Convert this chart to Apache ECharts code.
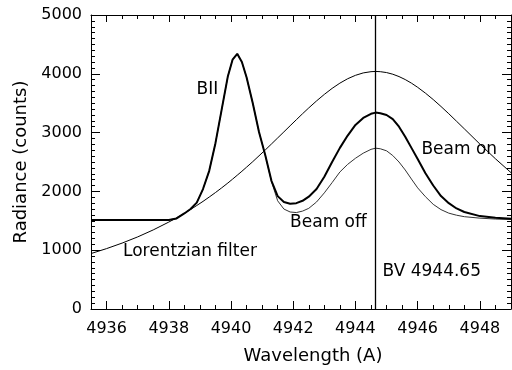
<!DOCTYPE html>
<html>
<head>
<meta charset="utf-8">
<script src="https://cdn.jsdelivr.net/npm/echarts@6/dist/echarts.min.js"></script>
<style>
html,body{margin:0;padding:0;background:#fff;}
#chart{width:512px;height:370px;}
</style>
</head>
<body>
<div id="chart"></div>
<script>
const wavelength = [4935.5,4936.0,4936.5,4937.0,4937.5,4938.0,4938.25,4938.5,4938.7,4938.9,4939.1,4939.3,4939.5,4939.7,4939.9,4940.05,4940.2,4940.35,4940.5,4940.7,4940.9,4941.1,4941.3,4941.5,4941.7,4941.9,4942.1,4942.3,4942.5,4942.75,4943.0,4943.25,4943.5,4943.75,4944.0,4944.25,4944.5,4944.65,4944.8,4945.0,4945.2,4945.4,4945.6,4945.8,4946.0,4946.25,4946.5,4946.75,4947.0,4947.25,4947.5,4948.0,4948.5,4949.0];
const beamOn = [1515,1515,1515,1515,1515,1515,1540,1625,1700,1810,2040,2350,2820,3390,3960,4240,4340,4200,3940,3500,3010,2620,2180,1920,1820,1790,1800,1840,1910,2040,2250,2500,2740,2950,3130,3250,3320,3340,3330,3300,3230,3100,2930,2740,2550,2310,2100,1920,1800,1710,1650,1580,1550,1535];
const beamOff = [1515,1515,1515,1515,1515,1515,1540,1625,1700,1810,2040,2350,2820,3390,3960,4240,4340,4200,3940,3500,3010,2620,2170,1840,1700,1650,1640,1665,1712,1820,1975,2150,2330,2460,2563,2650,2715,2735,2725,2690,2610,2500,2364,2210,2060,1910,1780,1690,1630,1595,1570,1545,1530,1522];
const lorentzFilter = [943,1027,1121,1226,1345,1478,1550,1627,1692,1760,1830,1904,1980,2060,2143,2208,2275,2342,2412,2506,2605,2704,2806,2909,3012,3116,3219,3321,3420,3539,3650,3752,3841,3916,3974,4015,4036,4040,4036,4021,3993,3953,3902,3841,3770,3671,3562,3444,3321,3193,3064,2805,2555,2319];
const xMajorTicks = [4936,4938,4940,4942,4944,4946,4948];
const xMinorTicks = [4935.5,4936,4936.5,4937,4937.5,4938,4938.5,4939,4939.5,4940,4940.5,4941,4941.5,4942,4942.5,4943,4943.5,4944,4944.5,4945,4945.5,4946,4946.5,4947,4947.5,4948,4948.5,4949];
const bvWavelength = 4944.65;
const annotations = [
  {text:'BII', x:4939.24, y:3724, align:'center'},
  {text:'Lorentzian filter', x:4936.53, y:969, align:'left'},
  {text:'Beam off', x:4941.9, y:1463, align:'left'},
  {text:'Beam on', x:4946.12, y:2704, align:'left'},
  {text:'BV 4944.65', x:4944.87, y:629, align:'left'}
];

const FONT = 'DejaVu Sans';
const plain = v => String(v);
const pair = arr => wavelength.map((w,i)=>[w,arr[i]]);
const chart = echarts.init(document.getElementById('chart'), null, {renderer:'canvas'});
const xBase = {type:'value', min:4935.5, max:4949, splitLine:{show:false}};
const yBase = {type:'value', min:0, max:5000, interval:1000, splitLine:{show:false}};
const black = {color:'#000', width:1};
chart.setOption({
  backgroundColor:'#fff',
  animation:false,
  grid:{left:91, right:1, top:15, bottom:61, containLabel:false},
  xAxis:[
    Object.assign({}, xBase, {position:'bottom', axisLine:{show:true, lineStyle:black},
      axisTick:{show:true, inside:true, length:4, customValues:xMinorTicks, lineStyle:black},
      axisLabel:{show:true, customValues:xMajorTicks, formatter:plain, color:'#000', fontFamily:FONT, fontSize:16, margin:12},
      name:'Wavelength (A)', nameLocation:'middle', nameGap:38,
      nameTextStyle:{color:'#000', fontFamily:FONT, fontSize:18, padding:[0,0,0,24]}}),
    Object.assign({}, xBase, {position:'bottom', axisLine:{show:false},
      axisTick:{show:true, inside:true, length:8, customValues:xMajorTicks, lineStyle:black},
      axisLabel:{show:false}}),
    Object.assign({}, xBase, {position:'top', axisLine:{show:true, lineStyle:black},
      axisTick:{show:true, inside:true, length:4, customValues:xMinorTicks, lineStyle:black},
      axisLabel:{show:false}}),
    Object.assign({}, xBase, {position:'top', axisLine:{show:false},
      axisTick:{show:true, inside:true, length:7, customValues:xMajorTicks, lineStyle:black},
      axisLabel:{show:false}})
  ],
  yAxis:[
    Object.assign({}, yBase, {position:'left', axisLine:{show:true, lineStyle:black},
      axisTick:{show:true, inside:true, length:9, lineStyle:black},
      minorTick:{show:true, splitNumber:10, length:4, lineStyle:black},
      axisLabel:{formatter:plain, color:'#000', fontFamily:FONT, fontSize:16, margin:9},
      name:'Radiance (counts)', nameLocation:'middle', nameGap:58, nameRotate:90,
      nameTextStyle:{color:'#000', fontFamily:FONT, fontSize:18}}),
    Object.assign({}, yBase, {position:'right', axisLine:{show:true, lineStyle:black},
      axisTick:{show:true, inside:true, length:9, lineStyle:black},
      minorTick:{show:true, splitNumber:10, length:4, lineStyle:black},
      axisLabel:{show:false}})
  ],
  series:[
    {type:'line', name:'Lorentzian filter', data:pair(lorentzFilter), showSymbol:false, symbol:'none',
      lineStyle:{color:'#000', width:1}, clip:true,
      markLine:{silent:true, symbol:'none', label:{show:false},
        lineStyle:{color:'#000', width:1.3, type:'solid'}, data:[{xAxis:bvWavelength}]}},
    {type:'line', name:'Beam off', data:pair(beamOff), showSymbol:false, symbol:'none',
      lineStyle:{color:'#333', width:1}, clip:true},
    {type:'line', name:'Beam on', data:pair(beamOn), showSymbol:false, symbol:'none',
      lineStyle:{color:'#000', width:2}, clip:true}
  ]
});
const graphics = annotations.map(a=>{
  const p = chart.convertToPixel({xAxisIndex:0, yAxisIndex:0}, [a.x, a.y]);
  return {type:'text', x:p[0], y:p[1], silent:true,
    style:{text:a.text, fill:'#000', font:'17px "DejaVu Sans"', textAlign:a.align, textVerticalAlign:'middle'}};
});
chart.setOption({graphic:graphics});
</script>
</body>
</html>
